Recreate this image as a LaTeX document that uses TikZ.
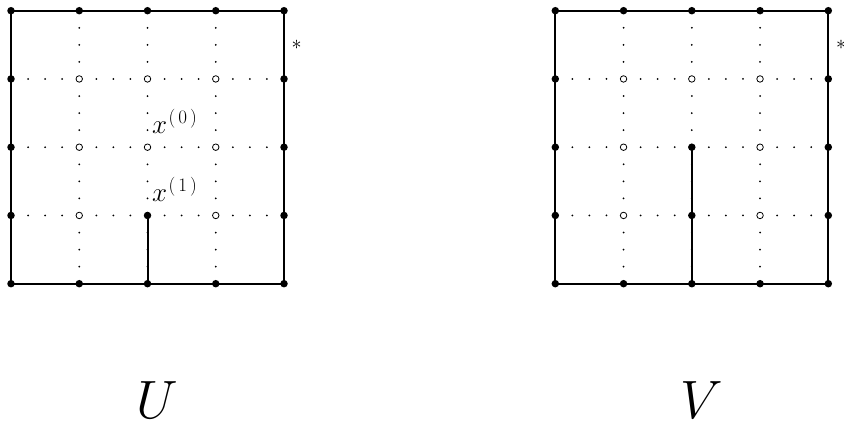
\RequirePackage{fix-cm}
\documentclass[tikz,border=0pt]{standalone}
\newcommand{\supl}[1]{\mbox{\fontsize{19}{22}\selectfont\kern1.5pt(\kern3pt#1\kern3pt)}}
\begin{document}
\begin{tikzpicture}[x=68.25pt,y=68.25pt,
  bdot/.style={circle,fill=black,inner sep=0pt,minimum size=7.5pt},
  odot/.style={circle,draw=black,fill=white,line width=0.8pt,inner sep=0pt,minimum size=6.5pt},
  edge/.style={line width=2pt},
  lbl/.style={inner sep=0pt,font=\fontsize{27}{32}\selectfont},
  ast/.style={inner sep=0pt,font=\fontsize{20}{24}\selectfont},
  big/.style={inner sep=0pt,font=\fontsize{54}{60}\selectfont}]
\useasboundingbox (-0.1612,-2.1143) rectangle (12.205,4.1568);
\foreach \g/\ox in {U/0,V/7.975}{
  % grid coordinates
  \foreach \i in {0,...,4}{
    \foreach \j in {0,...,4}{
      \coordinate (\g-\i-\j) at (\ox+\i,\j);
    }
  }
  % dotted interior lines
  \foreach \i in {1,2,3}{
    \foreach \k in {1,2,3,5,6,7,9,10,11,13,14,15}{
      \fill (\ox+\i,\k/4) circle (1pt);
      \fill (\ox+\k/4,\i) circle (1pt);
    }
  }
  % boundary square
  \draw[edge] (\g-0-0) -- (\g-4-0) -- (\g-4-4) -- (\g-0-4) -- cycle;
}
% interior solid segments
\draw[edge] (U-2-0) -- (U-2-1);
\draw[edge] (V-2-0) -- (V-2-2);
% boundary dots
\foreach \g in {U,V}{
  \foreach \p in {0-0,0-1,0-2,0-3,0-4,4-0,4-1,4-2,4-3,4-4,1-0,2-0,3-0,1-4,2-4,3-4}{
    \node[bdot] (\g-d-\p) at (\g-\p) {};
  }
}
% interior dots
\foreach \p in {1-1,1-2,1-3,2-2,2-3,3-1,3-2,3-3}{
  \node[odot] (U-d-\p) at (U-\p) {};
}
\node[bdot] (U-d-2-1) at (U-2-1) {};
\foreach \p in {1-1,1-2,1-3,2-3,3-1,3-2,3-3}{
  \node[odot] (V-d-\p) at (V-\p) {};
}
\node[bdot] (V-d-2-1) at (V-2-1) {};
\node[bdot] (V-d-2-2) at (V-2-2) {};
% labels
\node[lbl,anchor=base west] (x0) at (2.066,2.208) {$x^{\supl{0}}$};
\node[lbl,anchor=base west] (x1) at (2.066,1.2015) {$x^{\supl{1}}$};
\node[ast] (starU) at (4.186,3.503) {$*$};
\node[ast] (starV) at (12.161,3.503) {$*$};
\node[big,anchor=base] (labU) at (2.15,-1.968) {$U$};
\node[big,anchor=base] (labV) at (10.125,-1.968) {$V$};
\end{tikzpicture}
\end{document}
